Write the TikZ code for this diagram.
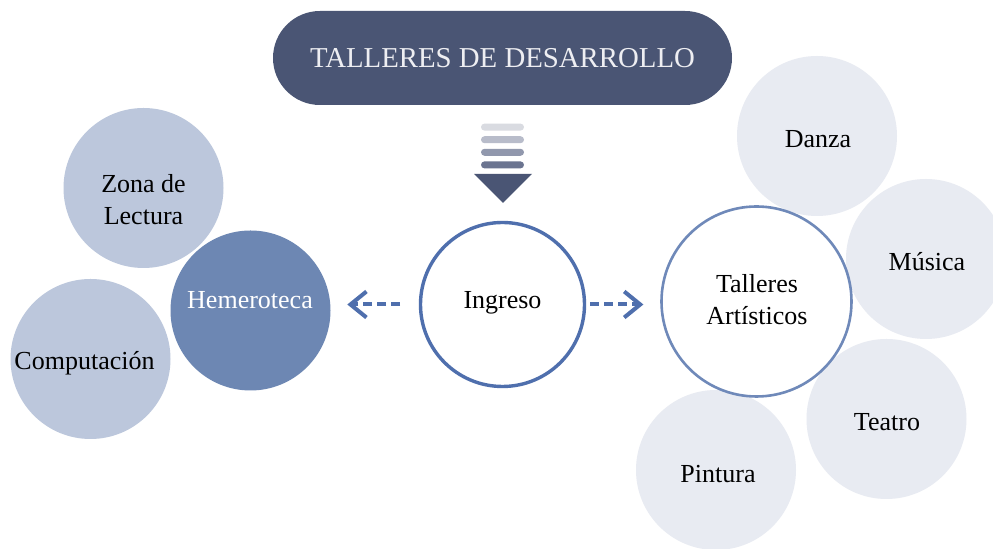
\documentclass[tikz,border=0pt]{standalone}
\usepackage{fontspec}
\setmainfont{Liberation Serif}
\usepackage{tikz}
\usetikzlibrary{arrows.meta,calc}
\definecolor{Slate}{HTML}{4A5574}
\definecolor{TitleText}{HTML}{EEEEF2}
\definecolor{Ring}{HTML}{4F6FAD}
\definecolor{SoftRing}{HTML}{6F89B9}
\definecolor{Mid}{HTML}{6D87B3}
\definecolor{Light}{HTML}{BCC7DC}
\definecolor{Pale}{HTML}{E8EBF2}
\definecolor{Bar1}{HTML}{D9DBE1}
\definecolor{Bar2}{HTML}{B8BCCA}
\definecolor{Bar3}{HTML}{9198AD}
\definecolor{Bar4}{HTML}{6B7490}

\begin{document}
\begin{tikzpicture}[x=0.5pt,y=-0.5pt,
    title/.style={rectangle,rounded corners=23.5pt,fill=Slate,text=TitleText,minimum width=229.5pt,minimum height=47pt,font=\fontsize{14.4}{17}\selectfont},
    bubble/.style={circle,inner sep=0pt,minimum size=80pt},
    ring/.style={circle,fill=white,draw=Ring,line width=1.7pt,inner sep=0pt,minimum size=82pt},
    txt/.style={align=center,inner sep=0pt,font=\fontsize{13}{16}\selectfont},
    bar/.style={rectangle,rounded corners=1.75pt,minimum width=21.5pt,minimum height=3.5pt,inner sep=0pt},
    link/.style={-{Straight Barb[length=8pt,width=13pt]},line width=2pt,draw=Ring,dash pattern=on 4.5pt off 2.5pt}
]
\fill[white] (0,0) rectangle (993,549);
\clip (0,0) rectangle (993,549);
\node[title] (top) at (502.5,58) {TALLERES DE DESARROLLO};
\foreach \c [count=\i] in {Bar1,Bar2,Bar3,Bar4}
    \node[bar,fill=\c] (bar\i) at (502.5,{114.5+12.6*\i}) {};
\fill[Slate] (474,174) -- (532,174) -- (503,203) -- cycle;

\node[bubble,fill=Light] (zona) at (143.5,188) {};
\node[bubble,fill=Light] (compu) at (90.5,359) {};
\node[bubble,fill=Mid] (hemero) at (250.5,310.5) {};
\node[txt] (zona-t) at (143.5,200) {Zona de\\Lectura};
\node[txt,anchor=base] (compu-t) at (84.5,370) {Computación};
\node[txt,anchor=base,text=white] (hemero-t) at (250,309) {Hemeroteca};

\node[ring] (ingreso) at (502.5,304.5) {};
\node[txt,anchor=base] (ingreso-t) at (502.5,309) {Ingreso};

\node[bubble,fill=Pale] (danza) at (817,136) {};
\node[bubble,fill=Pale] (musica) at (926,259) {};
\node[bubble,fill=Pale] (teatro) at (886.5,419) {};
\node[bubble,fill=Pale] (pintura) at (716,470) {};
\node[ring,draw=SoftRing,line width=1.3pt,minimum size=95pt] (talleres) at (756.5,301.5) {};
\node[txt] (talleres-t) at (757,300) {Talleres\\Artísticos};
\node[txt,anchor=base] (danza-t) at (818,148) {Danza};
\node[txt,anchor=base] (musica-t) at (927,271) {Música};
\node[txt,anchor=base] (teatro-t) at (887,431) {Teatro};
\node[txt,anchor=base] (pintura-t) at (718,483) {Pintura};

\draw[link,shorten <=9.4pt,shorten >=8.2pt] (ingreso.west) -- (ingreso.west -| hemero.east);
\draw[link,shorten <=2pt,shorten >=8.4pt] (ingreso.east) -- (ingreso.east -| talleres.west);
\end{tikzpicture}
\end{document}
